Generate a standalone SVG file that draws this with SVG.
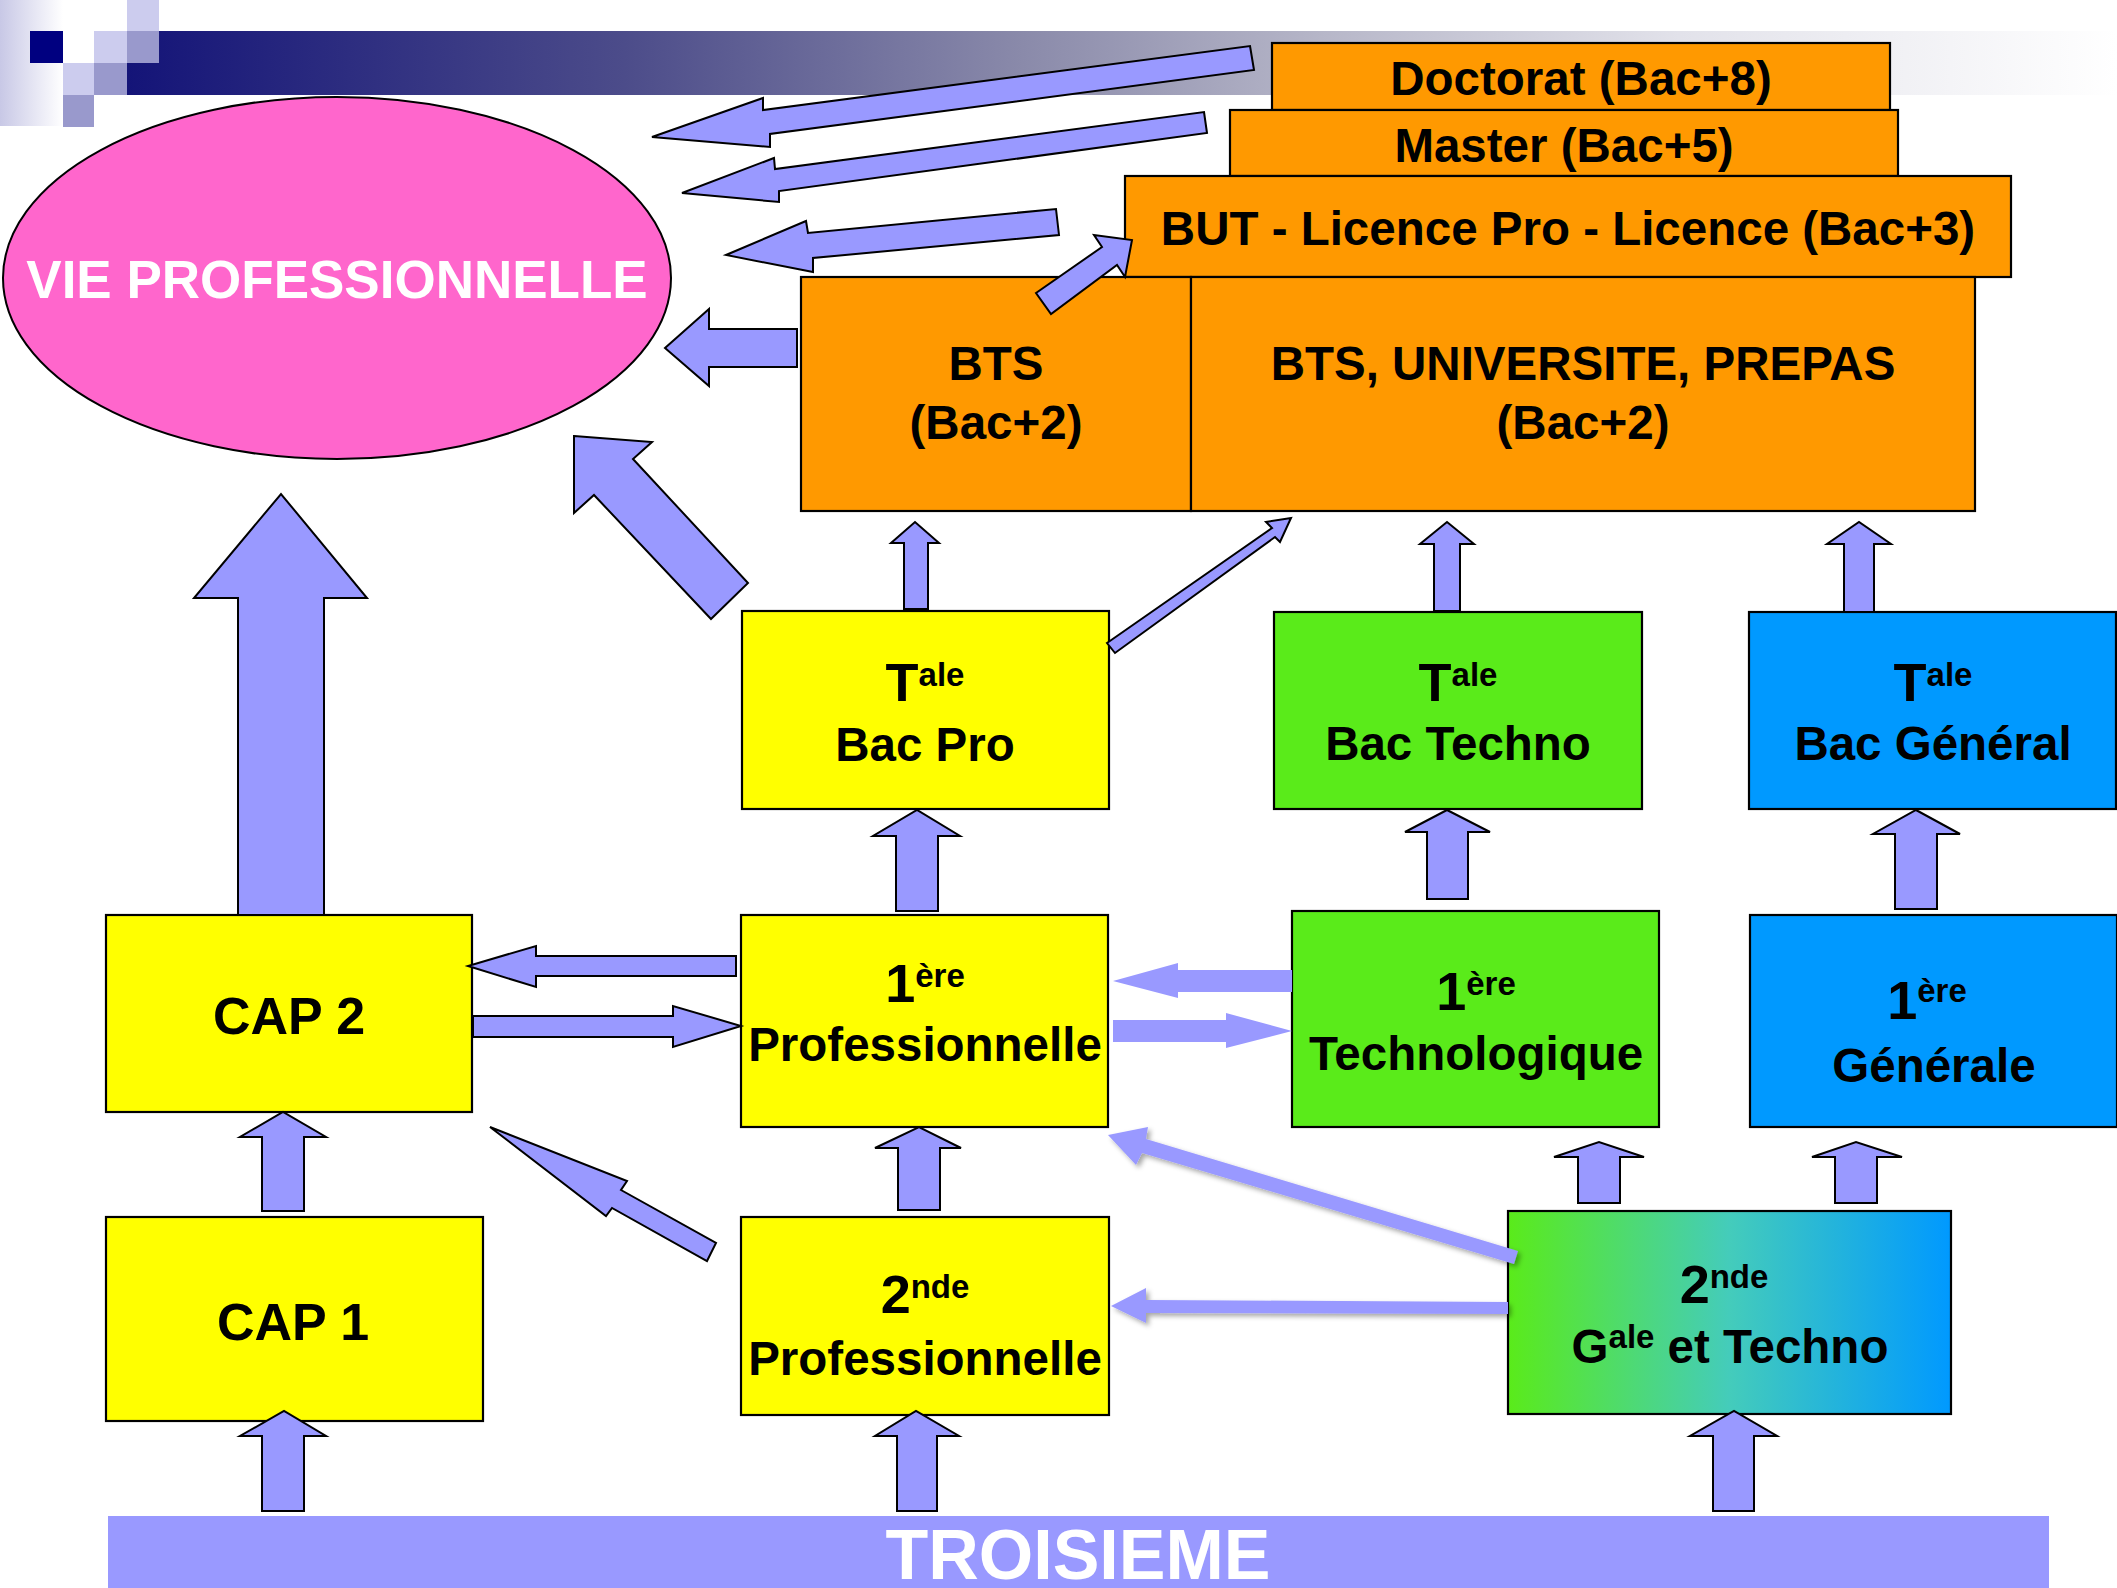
<svg xmlns="http://www.w3.org/2000/svg" width="2117" height="1588" viewBox="0 0 2117 1588">
<style>
.box{stroke:#000;stroke-width:2.2}
.yel{fill:#ffff00}.ora{fill:#ff9900}.grn{fill:#5aeb1a}.blu{fill:#0099ff}
.lbl{font-family:"Liberation Sans",Arial,sans-serif;font-weight:bold;font-size:47.5px;text-anchor:middle;fill:#000}
.big{font-size:54px}
.sup{font-size:33px}
.arr{fill:#9999ff;stroke:#000;stroke-width:2;stroke-linejoin:miter}
.arrn{fill:#9999ff}
.sh{fill:#9999ff;filter:url(#shadow)}
</style>
<defs>
<linearGradient id="barGrad" gradientUnits="userSpaceOnUse" x1="127" y1="0" x2="2117" y2="0">
<stop offset="0" stop-color="#141478"/>
<stop offset="0.25" stop-color="#4c4c8a"/>
<stop offset="0.45" stop-color="#8a8aaa"/>
<stop offset="0.6" stop-color="#b6b6c8"/>
<stop offset="0.78" stop-color="#e2e2ea"/>
<stop offset="1" stop-color="#ffffff"/>
</linearGradient>
<linearGradient id="leftGrad" x1="0" y1="0" x2="1" y2="0">
<stop offset="0" stop-color="#c8c8e6"/>
<stop offset="1" stop-color="#ffffff"/>
</linearGradient>
<linearGradient id="gtGrad" x1="0" y1="0" x2="1" y2="0">
<stop offset="0" stop-color="#5aeb1a"/>
<stop offset="0.5" stop-color="#44ccbb"/>
<stop offset="1" stop-color="#0099ff"/>
</linearGradient>
<filter id="shadow" x="-10%" y="-30%" width="120%" height="160%">
<feDropShadow dx="3" dy="3" stdDeviation="2.5" flood-color="#000" flood-opacity="0.35"/>
</filter>
</defs>

<g id="header">
<rect x="0" y="0" width="63" height="126" fill="url(#leftGrad)"/>
<rect x="127" y="31" width="1990" height="64" fill="url(#barGrad)"/>
<rect x="127" y="0" width="32" height="31" fill="#ccccee"/>
<rect x="30" y="31" width="33" height="32" fill="#000080"/>
<rect x="63" y="31" width="31" height="32" fill="#ffffff"/>
<rect x="94" y="31" width="33" height="32" fill="#ccccee"/>
<rect x="127" y="31" width="32" height="32" fill="#9999cc"/>
<rect x="63" y="63" width="31" height="32" fill="#ccccee"/>
<rect x="94" y="63" width="33" height="32" fill="#9999cc"/>
<rect x="63" y="95" width="31" height="32" fill="#9999cc"/>
</g>

<g id="vie-pro">
<ellipse cx="337" cy="278" rx="334" ry="181" fill="#ff66cc" stroke="#000" stroke-width="2"/>
<text class="lbl" x="337" y="298" style="font-size:53px;fill:#ffffff">VIE PROFESSIONNELLE</text>
</g>

<g id="doctorat">
<rect class="box ora" x="1272" y="43" width="618" height="67"/>
<text class="lbl" x="1581" y="95">Doctorat (Bac+8)</text>
</g>
<g id="master">
<rect class="box ora" x="1230" y="110" width="668" height="66"/>
<text class="lbl" x="1564" y="162">Master (Bac+5)</text>
</g>
<g id="but">
<rect class="box ora" x="1125" y="176" width="886" height="101"/>
<text class="lbl" x="1568" y="245">BUT - Licence Pro - Licence (Bac+3)</text>
</g>
<g id="bts">
<rect class="box ora" x="801" y="277" width="390" height="234"/>
<text class="lbl" x="996" y="380">BTS</text>
<text class="lbl" x="996" y="439">(Bac+2)</text>
</g>
<g id="bts-univ">
<rect class="box ora" x="1191" y="277" width="784" height="234"/>
<text class="lbl" x="1583" y="380">BTS, UNIVERSITE, PREPAS</text>
<text class="lbl" x="1583" y="439">(Bac+2)</text>
</g>

<g id="tale-pro">
<rect class="box yel" x="742" y="611" width="367" height="198"/>
<text class="lbl" x="925" y="701"><tspan class="big">T</tspan><tspan class="sup" dy="-15">ale</tspan></text>
<text class="lbl" x="925" y="761">Bac Pro</text>
</g>
<g id="tale-techno">
<rect class="box grn" x="1274" y="612" width="368" height="197"/>
<text class="lbl" x="1458" y="701"><tspan class="big">T</tspan><tspan class="sup" dy="-15">ale</tspan></text>
<text class="lbl" x="1458" y="760">Bac Techno</text>
</g>
<g id="tale-gen">
<rect class="box blu" x="1749" y="612" width="367" height="197"/>
<text class="lbl" x="1933" y="701"><tspan class="big">T</tspan><tspan class="sup" dy="-15">ale</tspan></text>
<text class="lbl" x="1933" y="760">Bac Général</text>
</g>

<g id="cap2">
<rect class="box yel" x="106" y="915" width="366" height="197"/>
<text class="lbl" x="289" y="1034" style="font-size:52px">CAP 2</text>
</g>
<g id="premiere-pro">
<rect class="box yel" x="741" y="915" width="367" height="212"/>
<text class="lbl" x="925" y="1002"><tspan class="big">1</tspan><tspan class="sup" dy="-15">ère</tspan></text>
<text class="lbl" x="925" y="1061">Professionnelle</text>
</g>
<g id="premiere-techno">
<rect class="box grn" x="1292" y="911" width="367" height="216"/>
<text class="lbl" x="1476" y="1010"><tspan class="big">1</tspan><tspan class="sup" dy="-15">ère</tspan></text>
<text class="lbl" x="1476" y="1070">Technologique</text>
</g>
<g id="premiere-gen">
<rect class="box blu" x="1750" y="915" width="367" height="212"/>
<text class="lbl" x="1927" y="1019"><tspan class="big">1</tspan><tspan class="sup" dy="-17">ère</tspan></text>
<text class="lbl" x="1934" y="1082">Générale</text>
</g>

<g id="cap1">
<rect class="box yel" x="106" y="1217" width="377" height="204"/>
<text class="lbl" x="293" y="1340" style="font-size:52px">CAP 1</text>
</g>
<g id="seconde-pro">
<rect class="box yel" x="741" y="1217" width="368" height="198"/>
<text class="lbl" x="925" y="1313"><tspan class="big">2</tspan><tspan class="sup" dy="-15">nde</tspan></text>
<text class="lbl" x="925" y="1375">Professionnelle</text>
</g>
<g id="seconde-gt">
<rect class="box" fill="url(#gtGrad)" x="1508" y="1211" width="443" height="203"/>
<text class="lbl" x="1724" y="1303"><tspan class="big">2</tspan><tspan class="sup" dy="-15">nde</tspan></text>
<text class="lbl" x="1730" y="1363">G<tspan class="sup" dy="-15">ale</tspan><tspan dy="15"> et Techno</tspan></text>
</g>

<g id="troisieme">
<rect x="108" y="1516" width="1941" height="72" fill="#9999ff"/>
<text class="lbl" x="1078" y="1579" style="font-size:70px;fill:#ffffff">TROISIEME</text>
</g>

<g id="connectors">
<polygon class="arr" points="1250,46 1254,70 770,134 770,147 652,137 763,98 763,110"/>
<polygon class="arr" points="1204,112 1207,133 779,191 779,202 682,193 774,158 775,169"/>
<polygon class="arr" points="1056,209 1059,235 813,258 813,272 726,255 806,221 808,233"/>
<polygon class="arr" points="1036,293 1102,247 1094,235 1132,240 1125,277 1117,265 1051,314"/>
<polygon class="arr" points="797,329 709,329 709,309 665,348 709,386 709,367 797,367"/>
<polygon class="arr" points="574,436 652,442 633,459 748,583 711,619 594,495 574,513"/>
<polygon class="arr" points="904,609 904,543 891,543 915,522 939,543 928,543 928,609"/>
<polygon class="arr" points="1107,643 1272,528 1266,522 1291,518 1280,542 1275,537 1115,653"/>
<polygon class="arr" points="1434,611 1434,544 1420,544 1447,522 1474,544 1460,544 1460,611"/>
<polygon class="arr" points="1844,612 1844,544 1827,544 1859,522 1891,544 1874,544 1874,612"/>
<polygon class="arr" points="1427,899 1427,832 1405,832 1447,810 1490,832 1468,832 1468,899"/>
<polygon class="arr" points="1895,909 1895,834 1873,834 1916,810 1960,834 1937,834 1937,909"/>
<polygon class="arr" points="896,911 896,836 873,836 917,810 960,836 938,836 938,911"/>
<polygon class="arr" points="238,915 238,598 194,598 281,494 367,598 324,598 324,915"/>
<polygon class="arr" points="736,956 536,956 536,946 468,966 536,987 536,976 736,976"/>
<polygon class="arr" points="473,1016 673,1016 673,1006 741,1026 673,1047 673,1037 473,1037"/>
<polygon class="arr" points="262,1211 262,1137 240,1137 283,1112 326,1137 304,1137 304,1211"/>
<polygon class="arr" points="490,1127 627,1181 621,1190 716,1243 707,1261 612,1208 606,1216"/>
<polygon class="arr" points="898,1210 898,1148 875,1148 919,1127 961,1148 940,1148 940,1210"/>
<polygon class="arr" points="262,1511 262,1436 240,1436 284,1411 326,1436 304,1436 304,1511"/>
<polygon class="arr" points="897,1511 897,1436 875,1436 916,1411 959,1436 937,1436 937,1511"/>
<polygon class="arr" points="1713,1511 1713,1436 1690,1436 1734,1411 1777,1436 1754,1436 1754,1511"/>
<polygon class="arr" points="1578,1203 1578,1157 1554,1157 1599,1142 1644,1157 1620,1157 1620,1203"/>
<polygon class="arr" points="1835,1203 1835,1157 1812,1157 1856,1142 1902,1157 1877,1157 1877,1203"/>
<polygon class="arrn" points="1292,970 1178,970 1178,963 1113,981 1178,998 1178,992 1292,992"/>
<polygon class="arrn" points="1113,1020 1226,1020 1226,1013 1292,1031 1226,1048 1226,1042 1113,1042"/>
<polygon class="sh" points="1108,1135 1148,1127 1146,1139 1518,1251 1514,1264 1142,1153 1136,1165"/>
<polygon class="sh" points="1508,1302 1146,1300 1146,1288 1111,1306 1146,1323 1146,1313 1508,1314"/>
</g>
</svg>
